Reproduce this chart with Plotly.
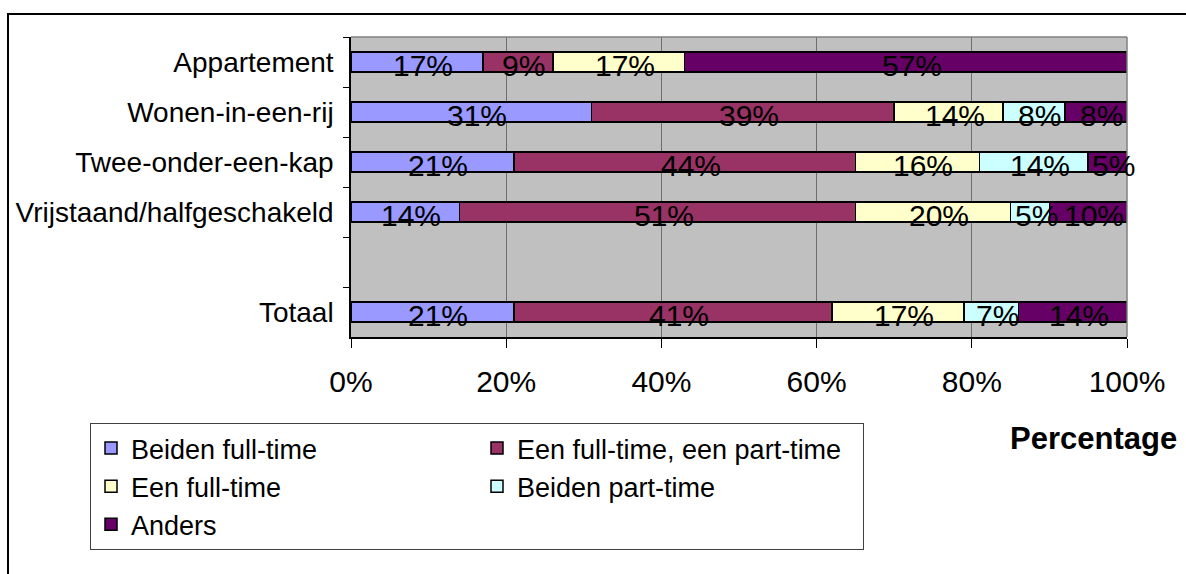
import plotly.graph_objects as go

# Housing types (top to bottom); the blank slot separates the total row
categories = ["Appartement", "Wonen-in-een-rij", "Twee-onder-een-kap",
              "Vrijstaand/halfgeschakeld", " ", "Totaal"]
bar_categories = ["Appartement", "Wonen-in-een-rij", "Twee-onder-een-kap",
                  "Vrijstaand/halfgeschakeld", "Totaal"]

series_names = ["Beiden full-time", "Een full-time, een part-time",
                "Een full-time", "Beiden part-time", "Anders"]

beiden_full_time = [17, 31, 21, 14, 21]
een_full_een_part = [9, 39, 44, 51, 41]
een_full_time = [17, 14, 16, 20, 17]
beiden_part_time = [0, 8, 14, 5, 7]
anders = [57, 8, 5, 10, 14]

series_values = [beiden_full_time, een_full_een_part, een_full_time,
                 beiden_part_time, anders]
series_colors = ["#9999FF", "#993366", "#FFFFCC", "#CCFFFF", "#660066"]

x_ticks = [0, 20, 40, 60, 80, 100]
x_tick_labels = ["0%", "20%", "40%", "60%", "80%", "100%"]

FONT = "Arial, Liberation Sans, sans-serif"

# plot area in pixels, used to place items outside it in paper units
PL, PR, PT, PB = 351, 1127, 37, 337
PW, PH = PR - PL, PB - PT


def px_x(px):
    return (px - PL) / PW


def px_y(py):
    return (PB - py) / PH


fig = go.Figure()
for name, vals, color in zip(series_names, series_values, series_colors):
    fig.add_trace(go.Bar(
        y=bar_categories, x=vals, name=name, orientation="h",
        width=0.4,
        marker=dict(color=color, line=dict(color="black", width=1.5)),
        hoverinfo="x+name",
    ))

# Value labels, centred on each stacked segment
annotations = []
for i, cat in enumerate(bar_categories):
    start = 0
    for vals in series_values:
        v = vals[i]
        if v > 0:
            annotations.append(dict(
                x=start + v / 2, y=cat, xref="x", yref="y",
                text=f"{v}%", showarrow=False, xshift=6, yshift=-3,
                font=dict(family=FONT, size=30, color="black"),
            ))
        start += v

annotations.append(dict(
    text="<b>Percentage</b>", xref="paper", yref="paper",
    x=px_x(1179), y=px_y(438), xanchor="right", yanchor="middle",
    showarrow=False, font=dict(family=FONT, size=31, color="black"),
))

shapes = [
    # outer chart frame
    dict(type="rect", xref="paper", yref="paper",
         x0=px_x(8), x1=px_x(1200), y0=px_y(600), y1=px_y(14),
         line=dict(color="black", width=2), layer="below"),
    # plot area border, top and right
    dict(type="line", xref="paper", yref="paper", x0=0, x1=1, y0=1, y1=1,
         line=dict(color="#808080", width=1.5)),
    dict(type="line", xref="paper", yref="paper", x0=1, x1=1, y0=0, y1=1,
         line=dict(color="#808080", width=1.5)),
]

fig.update_layout(
    width=1186, height=574, autosize=False,
    margin=dict(l=PL, r=1186 - PR, t=PT, b=574 - PB),
    barmode="stack",
    paper_bgcolor="white", plot_bgcolor="#C0C0C0",
    font=dict(family=FONT, color="black"),
    showlegend=True,
    legend=dict(
        orientation="h", xref="container", yref="container",
        x=90 / 1186, y=1 - 423 / 574, xanchor="left", yanchor="top",
        entrywidth=341, entrywidthmode="pixels",
        font=dict(family=FONT, size=27, color="black"),
        bordercolor="#404040", borderwidth=1, bgcolor="white",
        traceorder="normal",
    ),
    xaxis=dict(
        range=[0, 100], tickvals=x_ticks, ticktext=x_tick_labels,
        showgrid=True, gridcolor="#6e6e6e", gridwidth=1,
        showline=True, linecolor="black", linewidth=1.5,
        ticks="outside", ticklen=9, tickcolor="black", tickwidth=1,
        tickfont=dict(family=FONT, size=30, color="black"),
        ticklabelstandoff=8,
        zeroline=False, fixedrange=True,
    ),
    yaxis=dict(
        categoryorder="array", categoryarray=categories,
        range=[5.5, -0.5],
        showgrid=False, showline=True, linecolor="black", linewidth=1.5,
        ticks="outside", ticklen=6, tickcolor="black", tickson="boundaries",
        tickfont=dict(family=FONT, size=28, color="black"),
        ticklabelstandoff=10, fixedrange=True,
    ),
    annotations=annotations,
    shapes=shapes,
)

fig.write_html("out.html")
